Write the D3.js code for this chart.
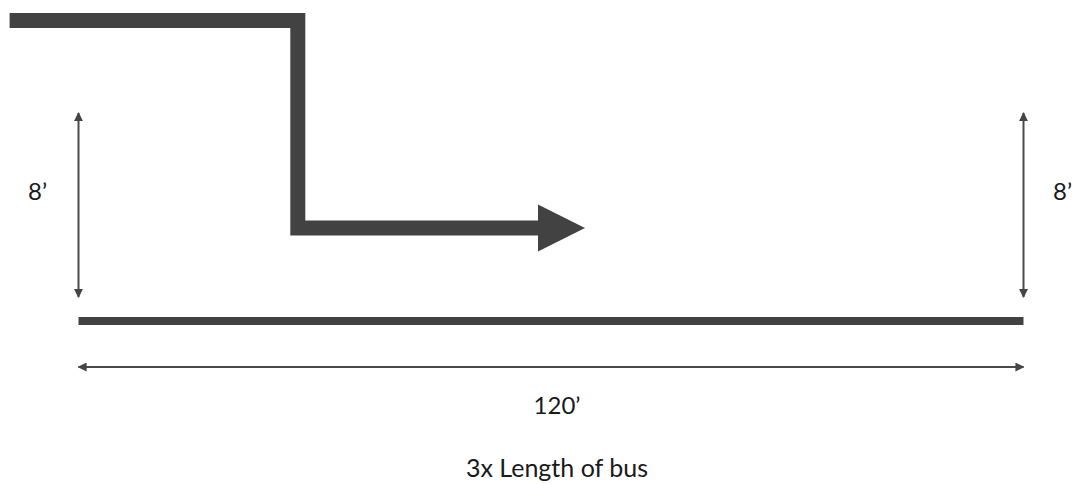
<!DOCTYPE html>
<html>
<head>
<meta charset="utf-8">
<script src="https://cdn.jsdelivr.net/npm/d3@7"></script>
<style>
  body { margin: 0; background: #fff; }
  text { font-family: Lato, "Open Sans", sans-serif; fill: #1a1a1a; }
</style>
</head>
<body>
<script>
(function () {
  'use strict'

  // route of the bus, in feet (x along the stop, y above the kerb)
  var routeX = [-8.75, 27.85, 27.85, 58.6]
  var routeY = [12.02, 12.02, 3.0, 3.0]
  var span = [0, 120]
  var height = [0, 8]
  var sideLabels = ['8\u2019', '8\u2019']
  var spanLabel = '120\u2019'
  var caption = '3x Length of bus'

  var dim = { w: 1074, h: 484 }

  var x = d3.scaleLinear().domain(span).range([78.5, 1023.5])
  var y = d3.scaleLinear().domain(height).range([297, 113])

  var svg = d3.select('body').append('svg')
    .attr('width', dim.w)
    .attr('height', dim.h)

  var defs = svg.append('defs')
  defs.append('marker')
    .attr('id', 'tip')
    .attr('viewBox', '0 0 10 10')
    .attr('refX', 9)
    .attr('refY', 5)
    .attr('markerWidth', 4.5)
    .attr('markerHeight', 4.5)
    .attr('orient', 'auto-start-reverse')
    .append('path')
      .attr('d', 'M0,0L10,5L0,10z')
      .attr('fill', '#454545')

  var ink = '#424242'

  // route line
  var pts = routeX.map(function (d, i) { return [x(d), y(routeY[i])] })
  svg.append('path')
    .attr('d', d3.line()(pts))
    .attr('fill', 'none')
    .attr('stroke', ink)
    .attr('stroke-width', 15)
    .attr('stroke-linejoin', 'miter')

  // arrow head at the end of the route
  var end = pts[pts.length - 1]
  svg.append('path')
    .attr('d', d3.line()([[end[0] - 2, end[1] - 23.5], [end[0] + 45, end[1]], [end[0] - 2, end[1] + 23.5]]) + 'Z')
    .attr('fill', ink)

  // kerb line
  var kerbY = y(0) + 24
  svg.append('line')
    .attr('x1', x(span[0])).attr('x2', x(span[1]))
    .attr('y1', kerbY).attr('y2', kerbY)
    .attr('stroke', ink)
    .attr('stroke-width', 8)

  // height arrows at both ends
  span.forEach(function (d, i) {
    svg.append('line')
      .attr('x1', x(d)).attr('x2', x(d))
      .attr('y1', y(height[0])).attr('y2', y(height[1]))
      .attr('stroke', '#4a4a4a')
      .attr('stroke-width', 2)
      .attr('marker-start', 'url(#tip)')
      .attr('marker-end', 'url(#tip)')

    svg.append('text')
      .attr('x', i === 0 ? x(d) - 41 : x(d) + 39)
      .attr('y', 200)
      .attr('text-anchor', 'middle')
      .attr('font-size', 24)
      .text(sideLabels[i])
  })

  // length arrow
  var lenY = kerbY + 46
  svg.append('line')
    .attr('x1', x(span[0])).attr('x2', x(span[1]))
    .attr('y1', lenY).attr('y2', lenY)
    .attr('stroke', '#4a4a4a')
    .attr('stroke-width', 2)
    .attr('marker-start', 'url(#tip)')
    .attr('marker-end', 'url(#tip)')

  svg.append('text')
    .attr('x', 557)
    .attr('y', 414)
    .attr('text-anchor', 'middle')
    .attr('font-size', 24)
    .text(spanLabel)

  svg.append('text')
    .attr('x', 557)
    .attr('y', 477)
    .attr('text-anchor', 'middle')
    .attr('font-size', 25)
    .text(caption)
}())
</script>
</body>
</html>
